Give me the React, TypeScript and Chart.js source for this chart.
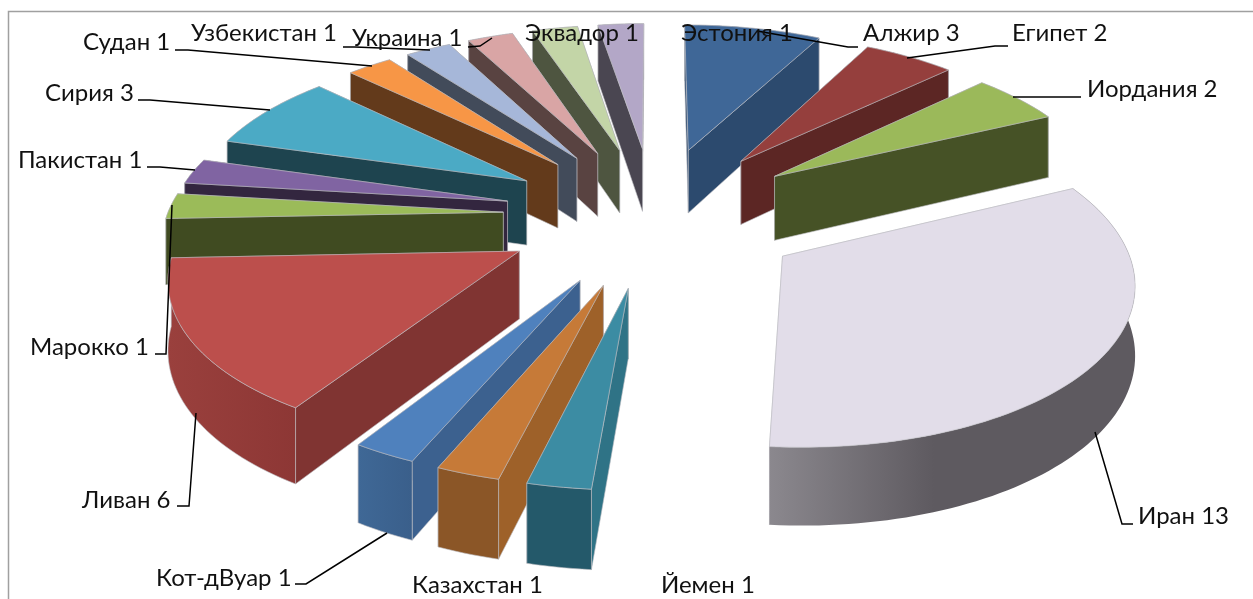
import React, { useEffect, useRef } from "react";
import { Chart, registerables } from "chart.js";

Chart.register(...registerables);

const categories = ["Алжир","Египет","Иордания","Иран","Йемен","Казахстан","Кот-дВуар","Ливан","Марокко","Пакистан","Сирия","Судан","Узбекистан","Украина","Эквадор","Эстония"];
const values = [3,2,2,13,1,1,1,6,1,1,3,1,1,1,1,1];

const topColors = ["#3F6797","#953F3D","#9BB95A","#E2DDE9","#3C8CA3","#C67A38","#4F81BD","#BC4F4C","#9BBB59","#8064A2","#4BAAC5","#F79646","#A6B7D9","#D9A5A5","#C3D5A7","#B3A7C7"];
const faceColors = ["#2C4A6E","#5C2624","#465226","#D8D3DE","#2F7386","#9E6129","#3C618F","#803432","#404B21","#33263F","#1E444F","#633A1B","#424B5A","#594341","#4E5540","#4A4651"];
const wallLeft = ["#2C4A6E","#5C2624","#465226","#8B888E","#24596A","#8B5627","#3F6896","#9A403D","#7a8f45","#33263F","#1E444F","#633A1B","#424B5A","#594341","#4E5540","#4A4651"];
const wallRight = ["#2C4A6E","#5C2624","#465226","#5E5A60","#24596A","#8B5627","#3A5F8B","#8D3735","#7a8f45","#33263F","#1E444F","#633A1B","#424B5A","#594341","#4E5540","#4A4651"];

// label layout: [text-left, text-centre-y], then leader line vertices
const labelPos: number[][] = [[863,33],[1012,33],[1087,89],[1138,516],[661,585],[412,585],[156,578],[82,500],[30,347],[18,160],[45,93],[83,42],[191,33],[352,38],[525,33],[681,33]];
const leaders: number[][][] = [
  [[858,47],[848,47],[757,31]],
  [[1008,46],[995,46],[907,58]],
  [[1081,97],[1013,97]],
  [[1133,524],[1122,524],[1095,432]],
  [],
  [],
  [[295,584],[306,584],[387,533]],
  [[177,506],[189,506],[196,413]],
  [[155,354],[166,354],[172,205]],
  [[147,167],[160,167],[195,170]],
  [[138,100],[150,100],[270,110]],
  [[175,50],[188,50],[372,66]],
  [[343,47],[355,47],[430,50]],
  [[468,47],[480,46],[492,38]],
  [],
  [],
];

// perspective used to lay the pie's flat geometry into the oblique view
const CX = 654, CY = 215, W = 336, K = 156, DIST = 8, DEPTH = 66;
function project(u: number, v: number, z: number): [number, number] {
  const s = 1 / (1 - v / DIST);
  return [CX + u * W * s, CY + K * v * s + z * DEPTH * s];
}

const threeD = {
  id: "threeD",
  beforeDatasetsDraw(chart: any) {
    const ctx: CanvasRenderingContext2D = chart.ctx;
    const arcs = chart.getDatasetMeta(0).data;
    const slices = arcs.map((arc: any, i: number) => {
      const p = arc.getProps(["startAngle", "endAngle", "outerRadius"], true);
      const e = arc.options.offset / p.outerRadius;
      const mid = (p.startAngle + p.endAngle) / 2;
      const ou = e * Math.cos(mid), ov = e * Math.sin(mid);
      return { i, a0: p.startAngle, a1: p.endAngle, ou, ov, order: ov + 0.7 * Math.sin(mid) };
    });
    slices.sort((a: any, b: any) => a.order - b.order);
    ctx.save();
    ctx.lineJoin = "round";
    const fillPoly = (pts: [number, number][], fill: any, edge = "rgba(190,190,195,0.75)") => {
      ctx.beginPath();
      pts.forEach((q, k) => (k ? ctx.lineTo(q[0], q[1]) : ctx.moveTo(q[0], q[1])));
      ctx.closePath();
      ctx.fillStyle = fill;
      ctx.fill();
      ctx.strokeStyle = edge;
      ctx.lineWidth = 0.8;
      ctx.stroke();
    };
    for (const s of slices) {
      const n = Math.max(6, Math.ceil((s.a1 - s.a0) * 40));
      const rim: [number, number][] = [];
      for (let k = 0; k <= n; k++) {
        const a = s.a0 + ((s.a1 - s.a0) * k) / n;
        rim.push([s.ou + Math.cos(a), s.ov + Math.sin(a)]);
      }
      const apex: [number, number] = [s.ou, s.ov];
      const top = (q: [number, number]) => project(q[0], q[1], 0);
      const bot = (q: [number, number]) => project(q[0], q[1], 1);
      const faces: { v: number; draw: () => void }[] = [];
      [rim[0], rim[n]].forEach((end) => {
        faces.push({
          v: (apex[1] + end[1]) / 2,
          draw: () => fillPoly([top(apex), top(end), bot(end), bot(apex)], faceColors[s.i]),
        });
      });
      faces.push({
        v: rim[Math.floor(n / 2)][1],
        draw: () => {
          const up = rim.map(top);
          const down = rim.map(bot).reverse();
          const xs = up.map((q) => q[0]);
          const h = ctx.createLinearGradient(Math.min(...xs), 0, Math.max(...xs), 0);
          h.addColorStop(0, wallLeft[s.i]);
          h.addColorStop(s.i === 3 ? 0.45 : 1, wallRight[s.i]);
          h.addColorStop(1, wallRight[s.i]);
          fillPoly([...up, ...down], h, s.i === 3 ? "rgba(0,0,0,0)" : undefined);
        },
      });
      faces.sort((a, b) => a.v - b.v).forEach((f) => f.draw());
      fillPoly([top(apex), ...rim.map(top)], topColors[s.i]);
    }
    ctx.restore();
    return false;
  },
  afterDraw(chart: any) {
    const ctx: CanvasRenderingContext2D = chart.ctx;
    ctx.save();
    ctx.strokeStyle = "#000";
    ctx.lineWidth = 1.5;
    leaders.forEach((line) => {
      if (!line.length) return;
      ctx.beginPath();
      line.forEach((q, k) => (k ? ctx.lineTo(q[0], q[1]) : ctx.moveTo(q[0], q[1])));
      ctx.stroke();
    });
    ctx.fillStyle = "#111";
    ctx.font = '24px Lato, "Open Sans", sans-serif';
    ctx.textBaseline = "middle";
    ctx.textAlign = "left";
    categories.forEach((c, i) => {
      ctx.fillText(`${c} ${values[i]}`, labelPos[i][0], labelPos[i][1]);
    });
    ctx.restore();
  },
  beforeDraw(chart: any) {
    const ctx: CanvasRenderingContext2D = chart.ctx;
    ctx.save();
    ctx.fillStyle = "#fff";
    ctx.fillRect(0, 0, chart.width, chart.height);
    ctx.strokeStyle = "#a0a0a0";
    ctx.lineWidth = 1.5;
    ctx.beginPath();
    ctx.moveTo(8.5, 599);
    ctx.lineTo(8.5, 11.5);
    ctx.lineTo(1253, 11.5);
    ctx.stroke();
    ctx.restore();
  },
};

export default function App() {
  const ref = useRef<HTMLCanvasElement>(null);
  useEffect(() => {
    document.body.style.margin = "0";
    const chart = new Chart(ref.current!, {
      type: "pie",
      data: { labels: categories, datasets: [{ data: values, backgroundColor: topColors, offset: 110, borderWidth: 0 }] },
      options: {
        responsive: false,
        animation: false,
        plugins: { legend: { display: false }, tooltip: { enabled: false } },
      },
      plugins: [threeD],
    } as any);
    return () => chart.destroy();
  }, []);
  return (
    <div style={{ position: "absolute", left: 0, top: 0, width: 1253, height: 599, overflow: "hidden" }}>
      <canvas ref={ref} width={1253} height={599} style={{ display: "block" }} />
    </div>
  );
}
